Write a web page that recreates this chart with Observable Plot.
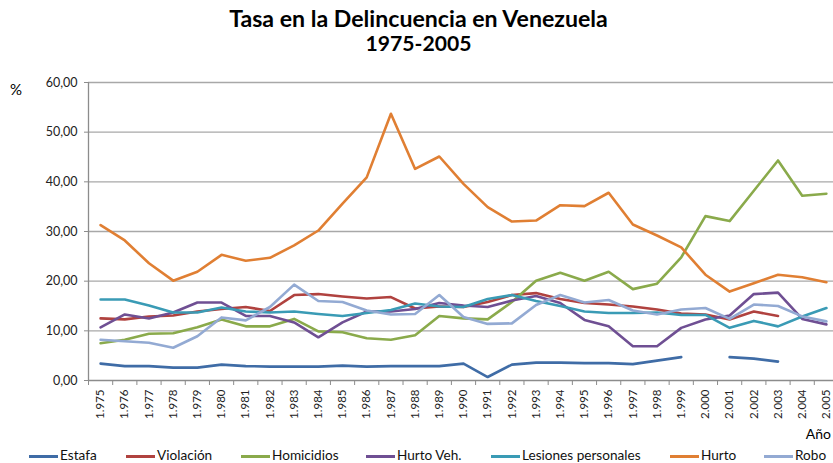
<!DOCTYPE html>
<html>
<head>
<meta charset="utf-8">
<script src="https://cdn.jsdelivr.net/npm/d3@7"></script>
<script src="https://cdn.jsdelivr.net/npm/@observablehq/plot@0.6"></script>
<style>
  body { margin: 0; background: #fff; }
  #wrap { position: relative; width: 833px; height: 463px; overflow: hidden; font-family: Lato, "Open Sans", sans-serif; color: #000; }
  #chart { position: absolute; left: 0; top: 0; }
  .ttl { position: absolute; left: 0; width: 837px; text-align: center; font-weight: bold; font-size: 18px; line-height: 22px; white-space: nowrap; }
  .ttl span { display: inline-block; }
  .lbl { position: absolute; white-space: nowrap; }
  .sw { position: absolute; height: 3px; width: 29px; }
  .lt { position: absolute; font-size: 13.6px; line-height: 13px; white-space: nowrap; color: #111; }
</style>
</head>
<body>
<div id="wrap">
  <div id="chart"></div>
  <div class="ttl" style="top:7px"><span id="t1">Tasa en la Delincuencia en Venezuela</span></div>
  <div class="ttl" style="top:32px"><span id="t2">1975-2005</span></div>
  <div class="lbl" style="left:10px;top:80px;font-size:15px;">%</div>
  <div class="lbl" style="right:2px;top:425px;font-size:14px;">Año</div>
  <div id="legend"></div>
</div>
<script>
const years = [1975,1976,1977,1978,1979,1980,1981,1982,1983,1984,1985,1986,1987,1988,1989,1990,
               1991,1992,1993,1994,1995,1996,1997,1998,1999,2000,2001,2002,2003,2004,2005];

const estafa     = [3.4,2.9,2.9,2.6,2.6,3.2,2.9,2.8,2.8,2.8,3.0,2.8,2.9,2.9,2.9,3.4,0.7,3.2,3.6,3.6,3.5,3.5,3.3,4.0,4.7,null,4.7,4.4,3.8,null,null];
const violacion  = [12.5,12.3,12.9,13.1,13.9,14.4,14.8,14.0,17.2,17.4,16.9,16.5,16.8,14.5,14.9,14.8,15.8,17.2,17.6,16.4,15.6,15.3,14.9,14.3,13.5,13.3,12.3,13.9,13.0,null,null];
const homicidios = [7.5,8.2,9.4,9.5,10.7,12.3,10.9,10.9,12.4,9.9,9.7,8.5,8.2,9.1,13.0,12.5,12.3,15.8,20.1,21.7,20.1,21.9,18.4,19.5,24.8,33.1,32.1,38.2,44.3,37.2,37.6];
const hurtoVeh   = [10.7,13.3,12.5,13.7,15.7,15.7,13.0,13.0,11.7,8.7,11.7,13.9,13.9,14.4,15.6,15.1,14.8,16.1,17.0,15.6,12.2,10.9,6.9,6.9,10.6,12.3,13.1,17.4,17.7,12.4,11.3];
const lesiones   = [16.3,16.3,15.1,13.7,13.7,14.7,13.9,13.7,13.9,13.4,13.0,13.6,14.2,15.5,14.9,14.8,16.4,17.2,16.0,15.0,13.9,13.6,13.6,13.7,13.2,13.2,10.6,12.0,10.9,12.9,14.6];
const hurto      = [31.3,28.2,23.6,20.1,21.9,25.3,24.1,24.7,27.2,30.2,35.6,40.9,53.7,42.6,45.1,39.6,34.9,32.0,32.2,35.3,35.1,37.8,31.4,29.2,26.8,21.3,17.9,19.6,21.3,20.8,19.8];
const robo       = [8.2,7.9,7.6,6.6,8.9,12.7,12.1,14.8,19.3,16.0,15.8,14.1,13.3,13.4,17.2,12.8,11.4,11.5,15.2,17.2,15.7,16.2,14.1,13.3,14.3,14.6,12.4,15.3,15.0,12.9,11.9];

const seriesNames  = ["Estafa","Violación","Homicidios","Hurto Veh.","Lesiones personales","Hurto","Robo"];
const seriesValues = [estafa, violacion, homicidios, hurtoVeh, lesiones, hurto, robo];
const seriesColors = ["#3F6CA6","#B0423F","#8AAA4B","#6F4F93","#3A9BB5","#E07F33","#93AAD3"];
const yTicks = [0,10,20,30,40,50,60];

const data = [];
seriesNames.forEach((name, s) => {
  years.forEach((yr, i) => data.push({name, year: yr, value: seriesValues[s][i]}));
});
const bounds = years.map(y => y - 0.5).concat([years[years.length - 1] + 0.5]);
const fmtYear = d => { const s = String(d); return s[0] + "." + s.slice(1); };

const plot = Plot.plot({
  width: 833,
  height: 463,
  marginTop: 82,
  marginBottom: 83,
  marginLeft: 88,
  marginRight: 0,
  x: {type: "linear", domain: [years[0] - 0.5, years[years.length - 1] + 0.5], range: [88, 838]},
  y: {domain: [0, 60]},
  style: {fontFamily: "Lato, 'Open Sans', sans-serif", background: "transparent", overflow: "hidden"},
  marks: [
    Plot.gridY(yTicks.slice(1), {stroke: "#a8a8a8", strokeOpacity: 1, strokeWidth: 1.4}),
    Plot.ruleY([0], {stroke: "#8c8c8c", strokeWidth: 1.3}),
    Plot.ruleX([years[0] - 0.5], {stroke: "#8c8c8c", strokeWidth: 1.3}),
    Plot.axisY(yTicks, {tickFormat: d => d.toFixed(2).replace(".", ","), tickSize: 4, tickPadding: 7, fontSize: 12.5, stroke: "#8c8c8c", fill: "#222", label: null}),
    Plot.axisX(bounds, {tickFormat: () => "", tickSize: 5, stroke: "#8c8c8c", label: null}),
    Plot.axisX(years, {tickSize: 0, tickRotate: -90, tickPadding: 9, tickFormat: fmtYear, fontSize: 11.5, fill: "#222", label: null}),
    Plot.line(data, {x: "year", y: "value", z: "name", stroke: d => seriesColors[seriesNames.indexOf(d.name)], strokeWidth: 2.6, strokeLinejoin: "round"})
  ]
});
document.getElementById("chart").appendChild(plot);

// legend
const textLeft = [60, 157, 272, 397, 522, 701, 795];
const legend = document.getElementById("legend");
seriesNames.forEach((name, i) => {
  const sw = document.createElement("div");
  sw.className = "sw";
  sw.style.left = (textLeft[i] - 31) + "px";
  sw.style.top = "455px";
  sw.style.background = seriesColors[i];
  legend.appendChild(sw);
  const t = document.createElement("div");
  t.className = "lt";
  t.style.left = textLeft[i] + "px";
  t.style.top = "449px";
  t.textContent = name;
  legend.appendChild(t);
});

// fit title font size to the reference width
function fit(el, target) {
  const w = el.getBoundingClientRect().width;
  const fs = parseFloat(getComputedStyle(el).fontSize);
  el.style.fontSize = (fs * target / w) + "px";
}
fit(document.getElementById("t1"), 379);
fit(document.getElementById("t2"), 106);
</script>
</body>
</html>
